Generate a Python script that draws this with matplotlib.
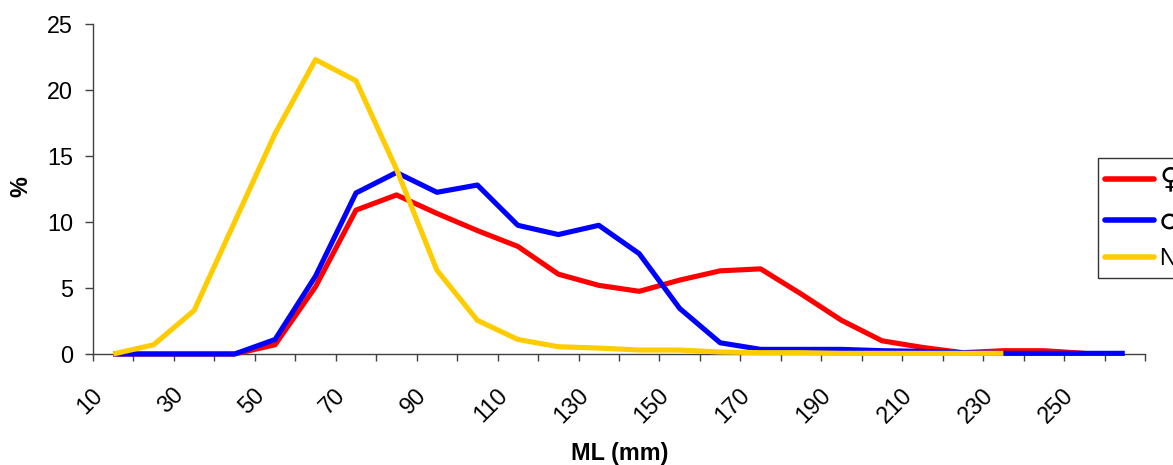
import matplotlib
matplotlib.use('Agg')
import matplotlib.pyplot as plt
from matplotlib.transforms import ScaledTranslation
import numpy as np

plt.rcParams['font.family'] = ['Liberation Sans', 'DejaVu Sans']

# ML size classes (mm), one category each
categories = [10, 20, 30, 40, 50, 60, 70, 80, 90, 100, 110, 120, 130,
              140, 150, 160, 170, 180, 190, 200, 210, 220, 230, 240, 250, 260]
tick_labels = ['10', '30', '50', '70', '90', '110', '130', '150', '170',
               '190', '210', '230', '250']

series_names = ['\u2640', '\u2642', 'N']
females = [0, 0, 0, 0, 0.7, 5.1, 10.9, 12.05, 10.65, 9.35, 8.15, 6.05, 5.2,
           4.75, 5.6, 6.3, 6.45, 4.55, 2.55, 1.0, 0.5, 0.1, 0.25, 0.25, 0.05]
males = [0, 0, 0, 0, 1.1, 5.9, 12.2, 13.75, 12.25, 12.8, 9.75, 9.05, 9.75,
         7.6, 3.45, 0.85, 0.35, 0.35, 0.35, 0.25, 0.2, 0.1, 0.05, 0.05, 0.05, 0.05]
others = [0, 0.7, 3.3, 10.0, 16.7, 22.3, 20.7, 14.0, 6.35, 2.55, 1.1, 0.55,
          0.45, 0.3, 0.3, 0.15, 0.1, 0.1, 0.05, 0.05, 0.05, 0.05, 0.05]

colors = ['#FF0000', '#0000FF', '#FFCC00']

W, H = 1173, 465
fig = plt.figure(figsize=(W / 100, H / 100), dpi=100)
ax = fig.add_axes([93 / W, 1 - 354 / H, (1145 - 93) / W, (354 - 24) / H])

FS = 16.8
for vals, c, name in zip([females, males, others], colors, series_names):
    x = np.arange(1, len(vals) + 1)
    ax.plot(x, vals, color=c, lw=3.7, solid_joinstyle='round',
            solid_capstyle='butt', clip_on=False, label=name, zorder=3)

ncat = len(categories)
ax.set_xlim(0.5, ncat + 0.5)
ax.set_ylim(0, 25)
ax.set_yticks(np.arange(0, 26, 5))
ax.set_yticklabels([str(v) for v in range(0, 26, 5)], fontsize=FS)

# category boundaries as tick marks, labels at every other category centre
ax.set_xticks(np.arange(0.5, ncat + 1, 1.0))
ax.set_xticklabels([])
label_pos = [categories.index(int(t)) + 1 for t in tick_labels]
ax.set_xticks(label_pos, minor=True)
ax.set_xticklabels(tick_labels, minor=True, fontsize=FS, rotation=45,
                   ha='right', va='center', rotation_mode='anchor')
ax.tick_params(axis='x', which='minor', length=0, pad=27)
ax.tick_params(axis='x', which='major', length=5, width=1, color='#404040', direction='out')
ax.tick_params(axis='y', length=5.8, width=1, color='#404040', direction='out', pad=8.5)
off = ScaledTranslation(-14 / 100, 0, fig.dpi_scale_trans)
for lab in ax.get_xticklabels(minor=True):
    lab.set_transform(lab.get_transform() + off)

for s in ['top', 'right']:
    ax.spines[s].set_visible(False)
for s in ['left', 'bottom']:
    ax.spines[s].set_color('#404040')
    ax.spines[s].set_linewidth(1.0)

fig.text(21 / W, 1 - 187 / H, '%', rotation=90, ha='center', va='center',
         fontsize=FS, fontweight='bold')
fig.text(620 / W, 1 - 453 / H, 'ML (mm)', ha='center', va='center',
         fontsize=FS, fontweight='bold')

leg = fig.legend(loc='upper left', bbox_to_anchor=(1098 / W, 1 - 158 / H),
                 borderaxespad=0, fontsize=FS, frameon=True, fancybox=False,
                 handlelength=2.1, handletextpad=0.2, borderpad=0.32,
                 labelspacing=0.55)
leg.get_frame().set_edgecolor('black')
leg.get_frame().set_linewidth(1.0)
for h in leg.get_lines():
    h.set_solid_capstyle('round')
    h.set_linewidth(4.0)
for t in leg.get_texts()[:2]:
    t.set_fontfamily('DejaVu Sans')
    t.set_fontsize(21)

fig.savefig('out.png', dpi=100)
